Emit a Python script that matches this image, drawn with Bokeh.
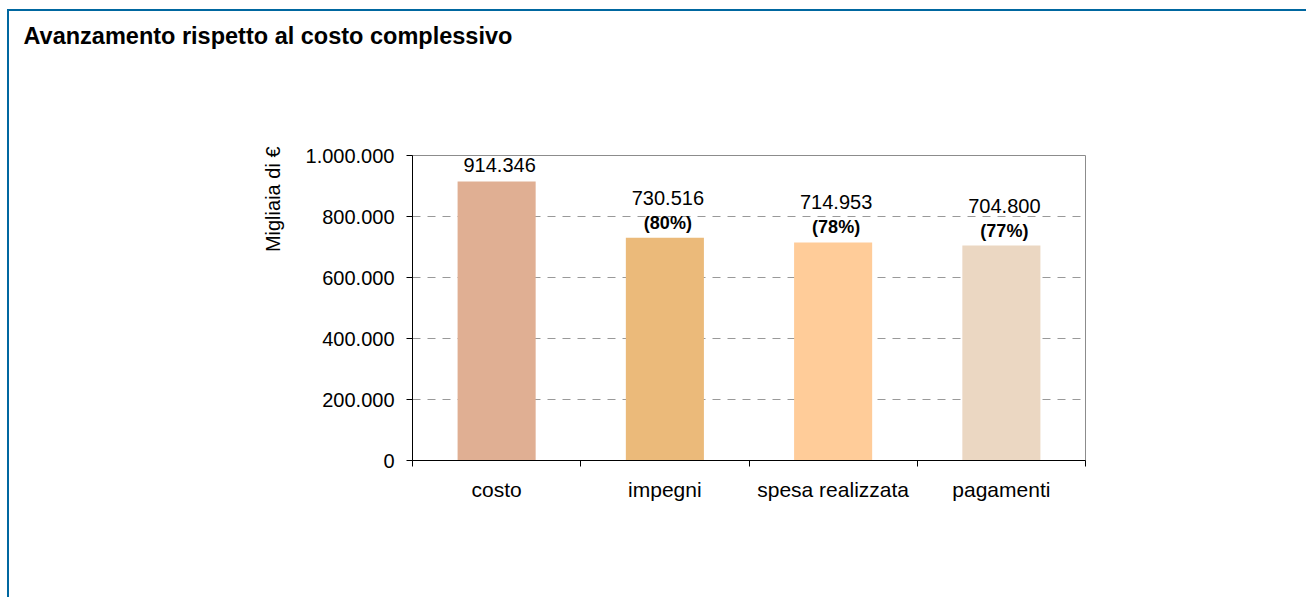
from bokeh.plotting import figure
from bokeh.models import Range1d, FixedTicker, ColumnDataSource, Title
from bokeh.core.properties import value
from bokeh.embed import file_html
from bokeh.resources import INLINE

# ---- data ----
categories = ["costo", "impegni", "spesa realizzata", "pagamenti"]
amounts = [914346, 730516, 714953, 704800]
pct_labels = ["", "(80%)", "(78%)", "(77%)"]
bar_colors = ["#E0AF93", "#EBBA7A", "#FFCC99", "#EBD7C2"]
y_ticks = [0, 200000, 400000, 600000, 800000, 1000000]
y_tick_labels = ["0", "200.000", "400.000", "600.000", "800.000", "1.000.000"]
title_text = "Avanzamento rispetto al costo complessivo"
y_label = "Migliaia di €"

FONT = "Liberation Sans"
BLUE = "#0067A0"

def fmt(v):
    return f"{v:,}".replace(",", ".")

xs = [i + 0.5 for i in range(len(categories))]
val_offsets = [-17 if p == "" else -40 for p in pct_labels]

src = ColumnDataSource(dict(
    x=xs, top=amounts, color=bar_colors,
    vlab=[fmt(v) for v in amounts], plab=pct_labels, voff=val_offsets,
))

p = figure(width=1299, height=588, output_backend="svg", toolbar_location=None,
           x_range=Range1d(0, len(categories)), y_range=Range1d(0, 1000000),
           min_border_left=403, min_border_right=223, min_border_top=144,
           min_border_bottom=139, title=None)
p.styles = {"margin-left": "7px", "margin-top": "9px",
            "border-left": f"2px solid {BLUE}", "border-top": f"2px solid {BLUE}"}
p.background_fill_color = "white"
p.border_fill_color = "white"
p.outline_line_color = "#8C8C8C"
p.outline_line_width = 1

# spacer panel (closest to the frame), then the real title above it
p.add_layout(Title(text=" ", standoff=94, text_font=FONT, text_font_size="10px",
                   text_color="white"), "above")
p.add_layout(Title(text=title_text, align="left", offset=-389, standoff=0,
                   vertical_align="bottom",
                   text_font=FONT, text_font_size="23.5px", text_font_style="bold",
                   text_color="black"), "above")

p.add_layout(Title(text=y_label, align="right", offset=-9, standoff=38,
                   text_font=FONT, text_font_size="20px", text_font_style="normal",
                   text_color="black"), "left")

p.vbar(x="x", top="top", width=0.464, color="color", line_color=None, source=src)

p.text(x="x", y="top", text="vlab", y_offset="voff", x_offset=3, source=src,
       text_align="center", text_baseline="alphabetic",
       text_font=value(FONT), text_font_size="20px", text_color="black")
p.text(x="x", y="top", text="plab", y_offset=-15, x_offset=3, source=src,
       text_align="center", text_baseline="alphabetic",
       text_font=value(FONT), text_font_size="18px", text_font_style="bold",
       text_color="black")

# y axis
p.yaxis.ticker = FixedTicker(ticks=y_ticks)
p.yaxis.major_label_overrides = {t: l for t, l in zip(y_ticks, y_tick_labels)}
p.yaxis.major_label_text_font = FONT
p.yaxis.major_label_text_font_size = "20px"
p.yaxis.major_label_text_color = "black"
p.yaxis.major_tick_out = 6
p.yaxis.major_tick_in = 0
p.yaxis.minor_tick_out = 0
p.yaxis.minor_tick_in = 0
p.yaxis.major_label_standoff = 12
p.yaxis.axis_line_color = "black"
p.yaxis.major_tick_line_color = "black"

# x axis
p.xaxis.ticker = FixedTicker(ticks=xs, minor_ticks=list(range(len(categories) + 1)))
p.xaxis.major_label_overrides = {x: c for x, c in zip(xs, categories)}
p.xaxis.major_label_text_font = FONT
p.xaxis.major_label_text_font_size = "21px"
p.xaxis.major_label_text_color = "black"
p.xaxis.major_tick_out = 0
p.xaxis.major_tick_in = 0
p.xaxis.minor_tick_out = 6
p.xaxis.minor_tick_in = 0
p.xaxis.minor_tick_line_color = "black"
p.xaxis.major_label_standoff = 11
p.xaxis.axis_line_color = "black"

p.xgrid.grid_line_color = None
p.ygrid.ticker = FixedTicker(ticks=[200000, 400000, 600000, 800000])
p.ygrid.grid_line_color = "#999999"
p.ygrid.grid_line_dash = "8 7"

open("out.html", "w").write(file_html(p, INLINE))
